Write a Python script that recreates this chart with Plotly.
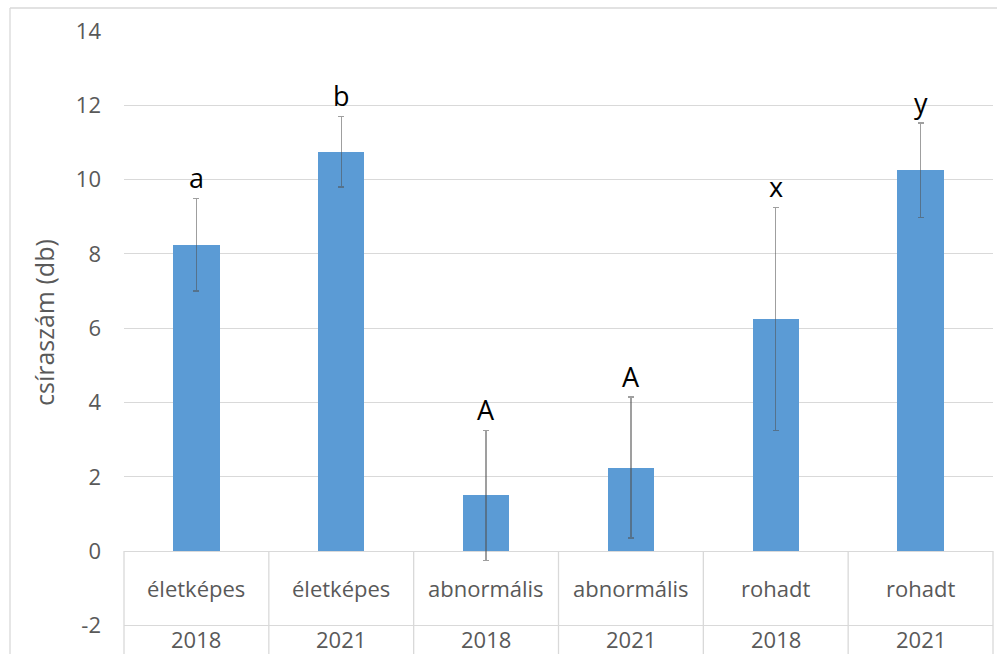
import plotly.graph_objects as go

# Germination counts per category and year
categories = ["életképes", "életképes", "abnormális", "abnormális", "rohadt", "rohadt"]
years = ["2018", "2021", "2018", "2021", "2018", "2021"]
means = [8.25, 10.75, 1.5, 2.25, 6.25, 10.25]
errors = [1.25, 0.95, 1.75, 1.9, 3.0, 1.27]
letters = ["a", "b", "A", "A", "x", "y"]
y_ticks = [-2, 0, 2, 4, 6, 8, 10, 12, 14]

FONT = "Open Sans"
GRAY_TEXT = "#595959"
GRID = "#d9d9d9"
y_min, y_max = -2.77, 14

idx = list(range(len(means)))

fig = go.Figure()
fig.add_trace(go.Bar(
    x=idx, y=means, width=0.32,
    marker=dict(color="#5b9bd5", line=dict(width=0)),
    error_y=dict(type="data", array=errors, visible=True,
                 color="rgba(80,80,80,0.55)", thickness=1.3, width=3),
    hoverinfo="skip",
))

annotations = []
# significance letters above the error bars
for i, (m, e, t) in enumerate(zip(means, errors, letters)):
    annotations.append(dict(x=i, y=m + e, text=t, showarrow=False,
                            xref="x", yref="y", yanchor="bottom", yshift=0,
                            font=dict(family=FONT, size=27, color="black")))
# two-row category table below the zero line
for i, (c, yr) in enumerate(zip(categories, years)):
    annotations.append(dict(x=i, y=-1.0, text=c, showarrow=False,
                            xref="x", yref="y",
                            font=dict(family=FONT, size=22, color=GRAY_TEXT)))
    annotations.append(dict(x=i, y=-2.36, text=yr, showarrow=False,
                            xref="x", yref="y",
                            font=dict(family=FONT, size=22, color=GRAY_TEXT)))
# y-axis title
annotations.append(dict(x=-80 / 869, y=(654 - 323) / 623, xref="paper", yref="paper",
                        text="csíraszám (db)", textangle=-90, showarrow=False,
                        xanchor="center", yanchor="middle",
                        font=dict(family=FONT, size=25, color=GRAY_TEXT)))

zero_paper = (0 - y_min) / (y_max - y_min)
n = len(means)
shapes = []
for k in range(n + 1):
    shapes.append(dict(type="line", xref="paper", yref="paper",
                       x0=k / n, x1=k / n, y0=zero_paper, y1=0,
                       line=dict(color=GRID, width=1.3), layer="above"))
# outer chart border
shapes.append(dict(type="line", xref="paper", yref="paper",
                   x0=-114 / 869, x1=-114 / 869, y0=0, y1=1 + 23 / 623,
                   line=dict(color=GRID, width=1.3)))
shapes.append(dict(type="line", xref="paper", yref="paper",
                   x0=-114 / 869, x1=1.01, y0=1 + 23 / 623, y1=1 + 23 / 623,
                   line=dict(color=GRID, width=1.3)))

fig.update_layout(
    width=997, height=654,
    margin=dict(l=124, r=4, t=31, b=0),
    paper_bgcolor="white", plot_bgcolor="white",
    showlegend=False,
    bargap=0,
    xaxis=dict(range=[-0.5, n - 0.5], showticklabels=False, showgrid=False,
               zeroline=False, showline=False, ticks=""),
    yaxis=dict(range=[y_min, y_max], tickvals=y_ticks,
               ticktext=[str(v) for v in y_ticks],
               showgrid=True, gridcolor=GRID, gridwidth=1.3,
               zeroline=False, showline=False, ticks="",
               tickfont=dict(family=FONT, size=22, color=GRAY_TEXT),
               ticklabelstandoff=22),
    annotations=annotations,
    shapes=shapes,
)

fig.write_html("out.html")
